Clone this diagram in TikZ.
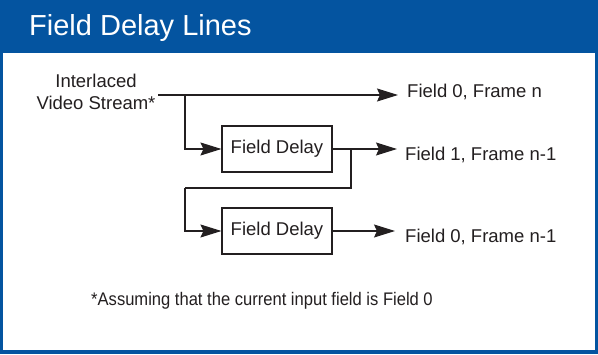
\documentclass[tikz,border=0pt]{standalone}
\usepackage{fontspec}
\usepackage{graphicx}
\setmainfont{Liberation Sans}
\usetikzlibrary{arrows.meta,positioning,calc}
\definecolor{hdrblue}{RGB}{4,84,160}
\definecolor{ink}{RGB}{35,31,32}
\tikzset{
  wire/.style={draw=ink, line width=1.1pt},
  arr/.style={wire, -{Stealth[length=21pt,width=13pt,inset=3pt]}},
  delaybox/.style={draw=ink, line width=1.1pt, minimum width=110pt, minimum height=46pt, inner sep=0pt, font=\fontsize{18.5}{21}\selectfont, text=ink},
  lbl/.style={anchor=west, inner sep=0pt, font=\fontsize{18.5}{21}\selectfont, text=ink},
}
\begin{document}
\begin{tikzpicture}[x=1pt,y=-1pt]
\useasboundingbox (0,0) rectangle (598,354);
\fill[hdrblue] (0,0) rectangle (598,354);
\fill[white] (3,53) rectangle (595,350);
\node[anchor=base west, inner sep=0pt, text=white, font=\fontsize{29}{32}\selectfont] (title) at (29,35) {Field Delay Lines};

\node[align=center, inner sep=0pt, text=ink, font=\fontsize{18.5}{21.6}\selectfont] (src) at (96,92) {Interlaced\\Video Stream*};
\coordinate (s) at (158,95);
\coordinate (j1) at (185,95);

\node[delaybox] (b1) at (277,149) {Field Delay};
\node[delaybox] (b2) at (277,231) {Field Delay};

\node[lbl] (o0) at (407,92) {Field 0, Frame n};
\node[lbl] (o1) at (405,155) {Field 1, Frame n-1};
\node[lbl] (o2) at (405,237) {Field 0, Frame n-1};

\coordinate (j2) at (351,149);
\coordinate (k) at (185,188);

\draw[arr] (s) -- ($(s -| o0.west)+(-9,0)$);
\draw[arr] (j1) |- (b1.west);
\draw[arr] (b1.east) -- ($(b1.east -| o1.west)+(-8,0)$);
\draw[wire] (j2) |- (k);
\draw[arr] (k) |- (b2.west);
\draw[arr] (b2.east) -- ($(b2.east -| o2.west)+(-10,0)$);

\node[inner sep=0pt, text=ink, font=\fontsize{18.2}{21}\selectfont] (note) at (262,301) {\scalebox{0.91}[1]{*Assuming that the current input field is Field 0}};
\end{tikzpicture}
\end{document}
